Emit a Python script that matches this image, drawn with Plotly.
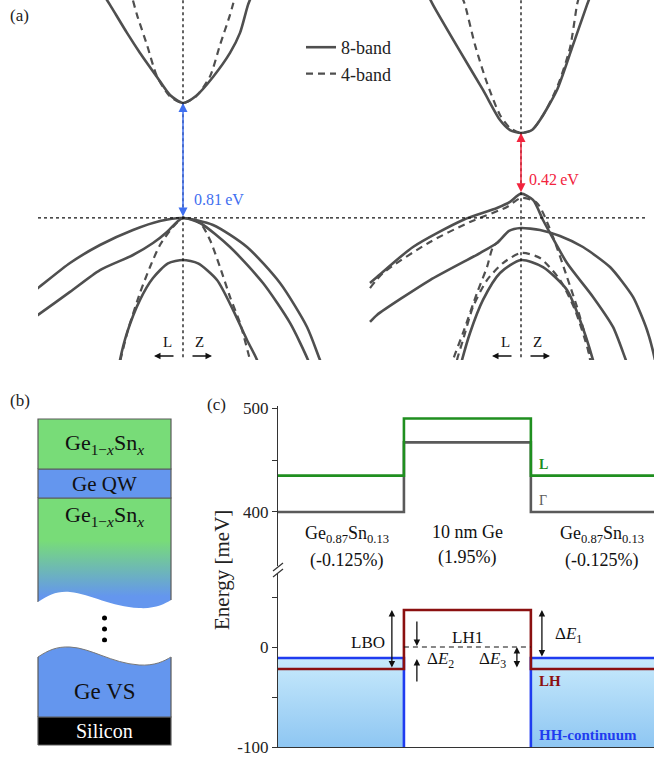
import plotly.graph_objects as go

W, H = 654, 758
def PX(x): return x / W
def PY(y): return 1 - y / H

FONT = "Liberation Serif, DejaVu Serif, serif"
BAND = "#4f4f4f"

# ---------------- panel (a): band structures (k arb. units, E in eV) ----------------
# left: Ge QW (0.81 eV gap)
kL_cb8 = [-0.78, -0.73, -0.56, -0.43, -0.26, -0.13, 0, 0.13, 0.30, 0.47, 0.57, 0.65, 0.69]
EL_cb8 = [1.545, 1.490, 1.294, 1.154, 0.986, 0.860, 0.804, 0.853, 0.986, 1.154, 1.294, 1.490, 1.559]
kL_cb4 = [-0.50, -0.46, -0.36, -0.26, -0.13, 0, 0.13, 0.27, 0.37, 0.47, 0.51]
EL_cb4 = [1.52, 1.42, 1.21, 0.99, 0.85, 0.804, 0.85, 0.99, 1.21, 1.42, 1.52]
kL_vA = [-1.53, -1.45, -1.13, -0.83, -0.50, -0.23, 0, 0.30, 0.64, 0.97, 1.24, 1.37, 1.42]
EL_vA = [-0.531, -0.490, -0.315, -0.189, -0.084, -0.021, 0, -0.049, -0.203, -0.455, -0.762, -0.993, -1.077]
kL_vB = [-1.53, -1.45, -1.13, -0.83, -0.50, -0.30, -0.16, -0.06, 0, 0.17, 0.47, 0.80, 1.07, 1.25, 1.29]
EL_vB = [-0.72, -0.678, -0.517, -0.364, -0.259, -0.175, -0.098, -0.028, 0, -0.035, -0.203, -0.455, -0.734, -0.993, -1.077]
kL_vC = [-0.65, -0.63, -0.56, -0.43, -0.30, -0.15, 0, 0.15, 0.34, 0.50, 0.64, 0.74, 0.77]
EL_vC = [-1.077, -0.993, -0.804, -0.573, -0.420, -0.318, -0.294, -0.318, -0.434, -0.643, -0.853, -0.993, -1.077]
kL_v4 = [-0.65, -0.63, -0.55, -0.43, -0.33, -0.23, -0.10, 0, 0.17, 0.27, 0.37, 0.47, 0.57, 0.67, 0.70]
EL_v4 = [-1.077, -1.007, -0.783, -0.524, -0.343, -0.189, -0.063, 0, -0.035, -0.154, -0.343, -0.552, -0.734, -0.993, -1.077]

# right: strained Ge (0.42 eV gap)
kR_cb8 = [-0.92, -0.88, -0.63, -0.38, -0.21, -0.11, 0, 0.11, 0.19, 0.36, 0.51, 0.66, 0.69]
ER_cb8 = [1.545, 1.490, 1.189, 0.895, 0.685, 0.615, 0.594, 0.615, 0.685, 0.895, 1.189, 1.490, 1.545]
kR_cb4 = [-0.59, -0.56, -0.46, -0.34, -0.21, -0.11, 0, 0.11, 0.24, 0.37, 0.49, 0.56, 0.58]
ER_cb4 = [1.545, 1.490, 1.210, 0.944, 0.720, 0.629, 0.594, 0.615, 0.741, 0.930, 1.189, 1.490, 1.545]
kR_vA = [-1.51, -1.44, -1.08, -0.58, -0.24, -0.11, 0, 0.12, 0.22, 0.29, 0.46, 0.72, 0.92, 1.06, 1.10]
ER_vA = [-0.455, -0.413, -0.203, -0.014, 0.070, 0.112, 0.170, 0.126, -0.014, -0.105, -0.315, -0.552, -0.762, -1.014, -1.077]
kR_vB = [-1.51, -1.44, -0.91, -0.41, -0.24, -0.12, 0, 0.19, 0.39, 0.62, 0.89, 1.12, 1.26, 1.34, 1.36]
ER_vB = [-0.727, -0.678, -0.434, -0.245, -0.175, -0.090, -0.070, -0.084, -0.126, -0.203, -0.343, -0.552, -0.783, -0.993, -1.077]
kR_vC = [-0.62, -0.59, -0.51, -0.38, -0.21, 0, 0.22, 0.46, 0.59, 0.72, 0.75]
ER_vC = [-1.077, -0.993, -0.804, -0.573, -0.385, -0.294, -0.343, -0.503, -0.713, -0.993, -1.077]
kR_v4a = [-1.51, -1.38, -0.91, -0.51, -0.14, 0, 0.16, 0.32, 0.46, 0.56, 0.64, 0.71]
ER_v4a = [-0.490, -0.385, -0.168, -0.028, 0.077, 0.140, 0.105, -0.133, -0.413, -0.622, -0.818, -1.028]
kR_v4b = [-0.66, -0.64, -0.58, -0.48, -0.34, -0.18, 0, 0.19, 0.39, 0.54, 0.67, 0.70]
ER_v4b = [-1.077, -0.993, -0.853, -0.622, -0.434, -0.315, -0.245, -0.280, -0.434, -0.643, -0.923, -1.028]
kR_v4c = [-0.21, -0.28, -0.34, -0.44, -0.58, -0.68, -0.71]
ER_v4c = [-0.154, -0.203, -0.343, -0.524, -0.804, -0.993, -1.077]

gaps = [0.81, 0.42]
gap_edges = [(0.0, 0.804), (0.17, 0.594)]

# ---------------- panel (b): layer stack (arb. thickness units) ----------------
layer_si = (0, 28)
layer_vs = (28, 100)
layer_graded = (135, 247)
layer_qw = (247, 276)
layer_top = (276, 326)
dots_y = [105, 116, 127]

# ---------------- panel (c): band alignment (x in nm, E in meV) ----------------
x_left_barrier = [-10, 0]
x_well = [0, 10]
x_right_barrier = [10, 20]
E_gamma = [400, 467, 400]
E_L = [435, 490, 435]
E_LH = [-22, 37, -22]
E_HH = -11
E_LH1 = 0

fig = go.Figure()

def line(x, y, xa, ya, color=BAND, width=2.6, dash="solid", shape="spline", name=None, show=False,
         group=None, smooth=0.7):
    ln = dict(color=color, width=width, dash=dash, shape=shape)
    if shape == "spline":
        ln["smoothing"] = smooth
    fig.add_trace(go.Scatter(x=x, y=y, xaxis=xa, yaxis=ya, mode="lines", line=ln,
                             name=name, showlegend=show, legendgroup=group, hoverinfo="skip"))

DASH = "7px,5px"
# left panel
line(kL_cb8, EL_cb8, "x", "y", name="8-band", show=True, group="g8")
line(kL_vA, EL_vA, "x", "y")
line(kL_vB, EL_vB, "x", "y")
line(kL_vC, EL_vC, "x", "y")
line(kL_cb4, EL_cb4, "x", "y", width=2.2, dash=DASH, name="4-band", show=True, group="g4")
line(kL_v4, EL_v4, "x", "y", width=2.2, dash=DASH)
# right panel
line(kR_cb8, ER_cb8, "x2", "y2")
line(kR_vA, ER_vA, "x2", "y2")
line(kR_vB, ER_vB, "x2", "y2", smooth=0.6)
line(kR_vC, ER_vC, "x2", "y2")
line(kR_cb4, ER_cb4, "x2", "y2", width=2.2, dash=DASH)
line(kR_v4a, ER_v4a, "x2", "y2", width=2.2, dash=DASH)
line(kR_v4b, ER_v4b, "x2", "y2", width=2.2, dash=DASH)
line(kR_v4c, ER_v4c, "x2", "y2", width=2.2, dash=DASH)

# dotted reference lines
for xa, ya, xr in [("x", "y", [-1.45, 1.47]), ("x2", "y2", [-1.91, 1.27])]:
    line([0, 0], [-1.1, 1.6], xa, ya, color="#111", width=1.3, dash="dot", shape="linear")
    line(xr, [0, 0], xa, ya, color="#111", width=1.3, dash="dot", shape="linear")

BLUE_A = "#3f6ff0"
RED_A = "#f2243d"
for (lo, hi), g, col, xa, ya, dx, lbl_y in [(gap_edges[0], gaps[0], BLUE_A, "x", "y", 0.09, 0.126),
                                             (gap_edges[1], gaps[1], RED_A, "x2", "y2", 0.06, 0.266)]:
    fig.add_annotation(x=0, y=hi, ax=0, ay=lo, xref=xa, yref=ya, axref=xa, ayref=ya, text="",
                       showarrow=True, arrowhead=2, startarrowhead=2, arrowside="end+start",
                       arrowsize=1.2, startarrowsize=1.2, arrowwidth=1.5, arrowcolor=col, standoff=0, startstandoff=0)
    fig.add_annotation(x=dx, y=lbl_y, xref=xa, yref=ya, text=f"{g:.2f}\u2009eV", showarrow=False,
                       xanchor="left", yanchor="middle", font=dict(size=16, color=col, family=FONT))

for xa, ya in [("x", "y"), ("x2", "y2")]:
    fig.add_annotation(x=-0.29, y=-0.965, ax=-0.08, ay=-0.965, xref=xa, yref=ya, axref=xa, ayref=ya, text="",
                       showarrow=True, arrowhead=2, arrowsize=1, arrowwidth=1.3, arrowcolor="#111", standoff=0)
    fig.add_annotation(x=0.29, y=-0.965, ax=0.08, ay=-0.965, xref=xa, yref=ya, axref=xa, ayref=ya, text="",
                       showarrow=True, arrowhead=2, arrowsize=1, arrowwidth=1.3, arrowcolor="#111", standoff=0)
    fig.add_annotation(x=-0.155, y=-0.87, xref=xa, yref=ya, text="L", showarrow=False,
                       font=dict(size=15, family=FONT, color="#111"))
    fig.add_annotation(x=0.16, y=-0.87, xref=xa, yref=ya, text="Z", showarrow=False,
                       font=dict(size=15, family=FONT, color="#111"))

# ---------------- panel (b) ----------------
GREEN_B = "#78dc78"
BLUE_B = "#6496ee"
EDGE = "#5a5a5a"
def rect(y0y1, fillcolor=None, grad=None):
    y0, y1 = y0y1
    kw = dict(fillcolor=fillcolor) if grad is None else dict(fillgradient=grad)
    fig.add_trace(go.Scatter(x=[0, 1, 1, 0, 0], y=[y0, y0, y1, y1, y0], xaxis="x3", yaxis="y3",
                             mode="lines", fill="toself", line=dict(color=EDGE, width=1.2),
                             showlegend=False, hoverinfo="skip", **kw))

rect(layer_si, "#000000")
rect(layer_vs, BLUE_B)
rect(layer_graded, grad=dict(type="vertical",
                             colorscale=[[0, BLUE_B], [0.12, BLUE_B], [0.62, GREEN_B], [1, GREEN_B]]))
rect(layer_qw, BLUE_B)
rect(layer_top, GREEN_B)
fig.add_trace(go.Scatter(x=[0.5] * 3, y=dots_y, xaxis="x3", yaxis="y3", mode="markers",
                         marker=dict(size=5, color="#000"), showlegend=False, hoverinfo="skip"))

shapes = []
# wavy cut edges (cover shapes)
shapes.append(dict(type="path", xref="x3", yref="y3", layer="above", fillcolor="white", line=dict(width=0),
                   path="M-0.03,143 L0,143 C0.08,150 0.14,154 0.24,153 C0.40,151 0.55,138 0.76,137 "
                        "C0.88,136 0.95,141 1,145 L1.03,145 L1.03,132.5 L-0.03,132.5 Z"))
shapes.append(dict(type="path", xref="x3", yref="y3", layer="above", fillcolor="white", line=dict(width=0),
                   path="M-0.03,88 L0,88 C0.08,95 0.14,98.5 0.24,98 C0.40,97 0.55,82 0.76,80 "
                        "C0.88,79 0.95,84 1,88 L1.03,88 L1.03,102.5 L-0.03,102.5 Z"))
shapes.append(dict(type="path", xref="x3", yref="y3", layer="above", line=dict(color="#777", width=1),
                   path="M0,88 C0.08,95 0.14,98.5 0.24,98 C0.40,97 0.55,82 0.76,80 C0.88,79 0.95,84 1,88"))

GESN = "Ge<sub>1\u2212<i>x</i></sub>Sn<sub><i>x</i></sub>"
for txt_, yv, col, sz in [(GESN, 301, "#111", 22), ("Ge QW", 261.5, "#111", 21), (GESN, 229, "#111", 22),
                          ("Ge VS", 54, "#111", 23), ("Silicon", 14, "#fff", 20)]:
    fig.add_annotation(x=0.5, y=yv, xref="x3", yref="y3", text=txt_, showarrow=False,
                       font=dict(size=sz, color=col, family=FONT))

# ---------------- panel (c) ----------------
GRAY_C = "#5a5a5a"
GREEN_C = "#1f8f1f"
RED_C = "#8b1010"
BLUE_C = "#1f3cf0"
xs_step = [x_left_barrier[0], x_left_barrier[1], x_well[0], x_well[1], x_right_barrier[0], x_right_barrier[1]]

def step(vals):
    return [vals[0], vals[0], vals[1], vals[1], vals[2], vals[2]]

for xb in (x_left_barrier, x_right_barrier):
    fig.add_trace(go.Scatter(x=[xb[0], xb[1], xb[1], xb[0], xb[0]], y=[E_HH, E_HH, -100, -100, E_HH],
                             xaxis="x4", yaxis="y5", mode="lines", fill="toself", line=dict(width=0),
                             fillgradient=dict(type="vertical", colorscale=[[0, "#8ec6f2"], [1, "#c8eafc"]]),
                             showlegend=False, hoverinfo="skip"))

line(xs_step, step(E_gamma), "x4", "y4", color=GRAY_C, width=2.6, shape="linear")
line(xs_step, step(E_L), "x4", "y4", color=GREEN_C, width=2.6, shape="linear")
line([x_left_barrier[0], x_left_barrier[1], x_left_barrier[1], None, x_right_barrier[0], x_right_barrier[0], x_right_barrier[1]],
     [E_HH, E_HH, -100, None, -100, E_HH, E_HH], "x4", "y5", color=BLUE_C, width=2.6, shape="linear")
line(xs_step, step(E_LH), "x4", "y5", color=RED_C, width=2.6, shape="linear")
line(x_well, [E_LH1, E_LH1], "x4", "y5", color="#111", width=1.2, dash="5px,4px", shape="linear")

def arrow(x, y_head, y_tail, both=False):
    fig.add_annotation(x=x, y=y_head, ax=x, ay=y_tail, xref="x4", yref="y5", axref="x4", ayref="y5", text="",
                       showarrow=True, arrowhead=2, startarrowhead=2,
                       arrowside="end+start" if both else "end", arrowsize=1, startarrowsize=1,
                       arrowwidth=1.3, arrowcolor="#111", standoff=0, startstandoff=0)

arrow(-0.95, E_LH[1], E_LH[0], both=True)      # LBO
arrow(1.02, 1, 27)                             # dE2 down
arrow(1.02, -12, -36)                          # dE2 up
arrow(8.9, E_LH1, E_LH[0], both=True)          # dE3
arrow(10.87, E_LH[1], E_HH, both=True)         # dE1

def txt(x, y, s, ya="y5", color="#111", size=17, anchor="center", bold=False):
    if bold:
        s = f"<b>{s}</b>"
    fig.add_annotation(x=x, y=y, xref="x4", yref=ya, text=s, showarrow=False, xanchor=anchor,
                       yanchor="middle", font=dict(size=size, color=color, family=FONT))

txt(-2.84, 5, "LBO")
txt(5.04, 10, "LH1")
txt(2.9, -13, "\u0394<i>E</i><sub>2</sub>")
txt(7.0, -13, "\u0394<i>E</i><sub>3</sub>")
txt(13.0, 12, "\u0394<i>E</i><sub>1</sub>")
txt(10.5, -34, "LH", color=RED_C, size=15, anchor="left", bold=True)
txt(10.5, -88, "HH-continuum", color=BLUE_C, size=15, anchor="left", bold=True)
txt(10.5, 446, "L", ya="y4", color=GREEN_C, size=14, anchor="left", bold=True)
txt(10.5, 411.5, "\u0393", ya="y4", color=GRAY_C, size=14, anchor="left")
GESN13 = "Ge<sub>0.87</sub>Sn<sub>0.13</sub>"
txt(-4.5, 378, GESN13, ya="y4", size=18)
txt(-4.5, 353, "(-0.125%)", ya="y4", size=18)
txt(5.0, 381, "10 nm Ge", ya="y4", size=18)
txt(5.0, 356, "(1.95%)", ya="y4", size=18)
txt(15.6, 378, GESN13, ya="y4", size=18)
txt(15.6, 353, "(-0.125%)", ya="y4", size=18)

fig.add_annotation(x=PX(222), y=PY(570), xref="paper", yref="paper", text="Energy [meV]", textangle=-90,
                   showarrow=False, xanchor="center", yanchor="middle",
                   font=dict(size=21, family=FONT, color="#222"))

# axis break marks
for off in (0, 6):
    shapes.append(dict(type="line", xref="paper", yref="paper", x0=PX(273), y0=PY(574 + off - 3),
                       x1=PX(283), y1=PY(566 + off - 3), line=dict(color="#333", width=1.2)))

# panel labels
for s, x, y in [("(a)", 8, 16), ("(b)", 8, 400), ("(c)", 205, 404)]:
    fig.add_annotation(x=PX(x), y=PY(y), xref="paper", yref="paper", text=s, showarrow=False,
                       xanchor="left", yanchor="middle", font=dict(size=17, family=FONT, color="#222"))

hidden = dict(visible=False)
TICKF = dict(size=17, family=FONT, color="#222")
fig.update_layout(
    width=W, height=H, margin=dict(l=0, r=0, t=0, b=0, autoexpand=False),
    paper_bgcolor="white", plot_bgcolor="rgba(0,0,0,0)",
    font=dict(family=FONT, size=15, color="#222"),
    shapes=shapes,
    legend=dict(x=PX(301), y=PY(29), xanchor="left", yanchor="top", bgcolor="rgba(0,0,0,0)",
                font=dict(size=18, family=FONT, color="#222"), tracegroupgap=0, itemwidth=30),
    xaxis=dict(domain=[PX(38), PX(330)], range=[-1.45, 1.47], anchor="y", **hidden),
    yaxis=dict(domain=[PY(360), 1], range=[-0.993, 1.524], anchor="x", **hidden),
    xaxis2=dict(domain=[PX(330), 1], range=[-1.91, 1.33], anchor="y2", **hidden),
    yaxis2=dict(domain=[PY(360), 1], range=[-0.993, 1.524], anchor="x2", **hidden),
    xaxis3=dict(domain=[PX(38 - 2.66), PX(171 + 2.66)], range=[-0.02, 1.02], anchor="y3", **hidden),
    yaxis3=dict(domain=[PY(748), PY(416)], range=[-3, 329], anchor="x3", **hidden),
    xaxis4=dict(domain=[PX(278), 1], range=[-9.92, 19.7], anchor="y5", showline=True, linecolor="#333",
                linewidth=1.3, showticklabels=False, ticks="", showgrid=False, zeroline=False),
    yaxis4=dict(domain=[PY(566), PY(406)], range=[348, 502], anchor="x4", showline=True, linecolor="#333",
                linewidth=1.3, ticks="outside", ticklen=5, tickwidth=1.2, tickcolor="#333",
                tickvals=[400, 450, 500], ticktext=["400", "", "500"], showgrid=False, zeroline=False,
                tickfont=TICKF),
    yaxis5=dict(domain=[PY(747), PY(574)], range=[-100, 73], anchor="x4", showline=True, linecolor="#333",
                linewidth=1.3, ticks="outside", ticklen=5, tickwidth=1.2, tickcolor="#333",
                tickvals=[-100, -50, 0, 50], ticktext=["-100", "", "0", ""], showgrid=False, zeroline=False,
                tickfont=TICKF),
)

fig.write_html("out.html", config={"displayModeBar": False},
               post_script="document.body.style.margin='0';")
